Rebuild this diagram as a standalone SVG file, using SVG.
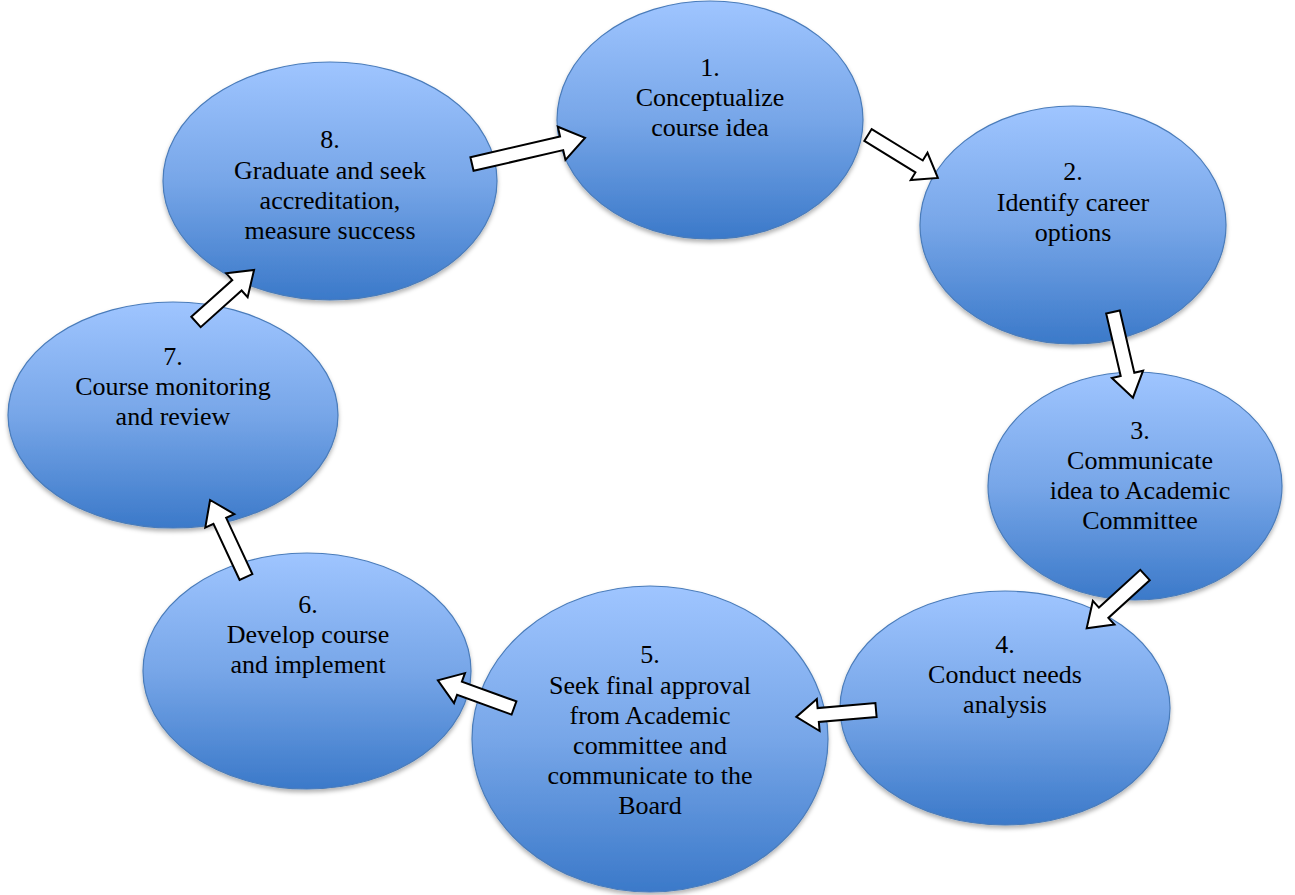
<svg xmlns="http://www.w3.org/2000/svg" width="1295" height="895" viewBox="0 0 1295 895">
  <defs>
    <linearGradient id="blueFill" x1="0" y1="0" x2="0" y2="1">
      <stop offset="0" stop-color="#9fc5ff"/>
      <stop offset="0.5" stop-color="#77a6e8"/>
      <stop offset="1" stop-color="#3b79c9"/>
    </linearGradient>
    <filter id="shadow" x="-10%" y="-10%" width="120%" height="125%">
      <feGaussianBlur in="SourceAlpha" stdDeviation="2"/>
      <feOffset dx="0" dy="3" result="blur"/>
      <feFlood flood-color="#000" flood-opacity="0.3"/>
      <feComposite in2="blur" operator="in"/>
      <feMerge>
        <feMergeNode/>
        <feMergeNode in="SourceGraphic"/>
      </feMerge>
    </filter>
  </defs>
  <style>
    .step { fill: url(#blueFill); stroke: #4a7cba; stroke-width: 1.2; filter: url(#shadow); }
    .label { font-family: "Liberation Serif", "Times New Roman", serif; font-size: 26px; fill: #000; text-anchor: middle; }
    .arrow { fill: #fff; stroke: #000; stroke-width: 2; stroke-linejoin: miter; }
  </style>
  <rect width="1295" height="895" fill="#fff"/>

  <g id="node1">
    <ellipse class="step" cx="710" cy="120" rx="153" ry="119"/>
    <text class="label"><tspan x="710" y="76">1.</tspan><tspan x="710" y="106">Conceptualize</tspan><tspan x="710" y="136">course idea</tspan></text>
  </g>
  <g id="node2">
    <ellipse class="step" cx="1073" cy="225" rx="153" ry="119"/>
    <text class="label"><tspan x="1073" y="180">2.</tspan><tspan x="1073" y="211">Identify career</tspan><tspan x="1073" y="241">options</tspan></text>
  </g>
  <g id="node3">
    <ellipse class="step" cx="1135" cy="486" rx="147" ry="114"/>
    <text class="label"><tspan x="1140" y="439">3.</tspan><tspan x="1140" y="469">Communicate</tspan><tspan x="1140" y="499">idea to Academic</tspan><tspan x="1140" y="529">Committee</tspan></text>
  </g>
  <g id="node4">
    <ellipse class="step" cx="1005" cy="708" rx="165" ry="117"/>
    <text class="label"><tspan x="1005" y="653">4.</tspan><tspan x="1005" y="683">Conduct needs</tspan><tspan x="1005" y="713">analysis</tspan></text>
  </g>
  <g id="node5">
    <ellipse class="step" cx="650" cy="739" rx="178" ry="153"/>
    <text class="label"><tspan x="650" y="663">5.</tspan><tspan x="650" y="694">Seek final approval</tspan><tspan x="650" y="724">from Academic</tspan><tspan x="650" y="754">committee and</tspan><tspan x="650" y="784">communicate to the</tspan><tspan x="650" y="814">Board</tspan></text>
  </g>
  <g id="node6">
    <ellipse class="step" cx="307" cy="671" rx="164" ry="118"/>
    <text class="label"><tspan x="308" y="613">6.</tspan><tspan x="308" y="643">Develop course</tspan><tspan x="308" y="673">and implement</tspan></text>
  </g>
  <g id="node7">
    <ellipse class="step" cx="173" cy="415" rx="165" ry="113"/>
    <text class="label"><tspan x="173" y="365">7.</tspan><tspan x="173" y="395">Course monitoring</tspan><tspan x="173" y="425">and review</tspan></text>
  </g>
  <g id="node8">
    <ellipse class="step" cx="330" cy="181" rx="167" ry="119"/>
    <text class="label"><tspan x="330" y="148">8.</tspan><tspan x="330" y="179">Graduate and seek</tspan><tspan x="330" y="209">accreditation,</tspan><tspan x="330" y="239">measure success</tspan></text>
  </g>

  <!-- block arrows: drawn along +x from the tail, then placed and turned -->
  <g id="connectors">
    <path class="arrow" transform="translate(472,164) rotate(-13)" d="M0,-7 L92,-7 L92,-17 L116,0 L92,17 L92,7 L0,7 Z"/>
    <path class="arrow" transform="translate(868,135) rotate(31.6)" d="M0,-7 L60,-7 L60,-16 L82,0 L60,16 L60,7 L0,7 Z"/>
    <path class="arrow" transform="translate(1113,312) rotate(76.9)" d="M0,-7 L64,-7 L64,-16 L88,0 L64,16 L64,7 L0,7 Z"/>
    <path class="arrow" transform="translate(1145,575) rotate(137.6)" d="M0,-7 L56,-7 L56,-16 L79,0 L56,16 L56,7 L0,7 Z"/>
    <path class="arrow" transform="translate(876,710) rotate(175)" d="M0,-7 L58,-7 L58,-16 L80,0 L58,16 L58,7 L0,7 Z"/>
    <path class="arrow" transform="translate(514,708) rotate(200)" d="M0,-7 L58,-7 L58,-16 L81,0 L58,16 L58,7 L0,7 Z"/>
    <path class="arrow" transform="translate(246,577) rotate(-115)" d="M0,-7 L62,-7 L62,-16 L85,0 L62,16 L62,7 L0,7 Z"/>
    <path class="arrow" transform="translate(196,322) rotate(-41.9)" d="M0,-7 L55,-7 L55,-16 L78,0 L55,16 L55,7 L0,7 Z"/>
  </g>
</svg>
